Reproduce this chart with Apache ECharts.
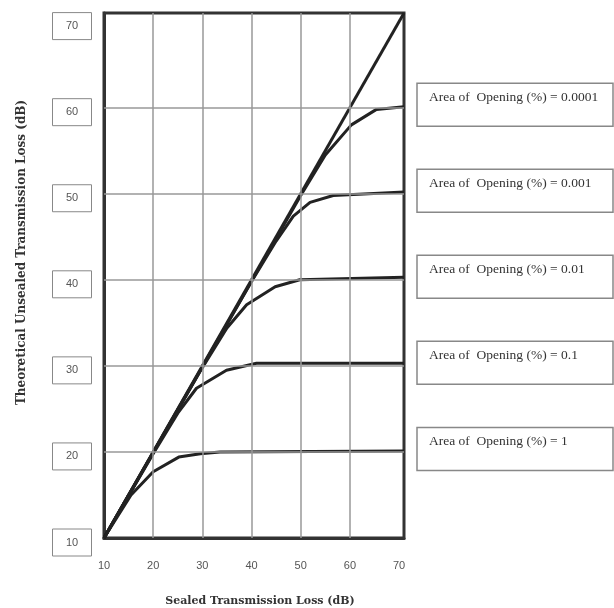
<!DOCTYPE html>
<html><head><meta charset="utf-8">
<script src="https://cdn.jsdelivr.net/npm/echarts@6/dist/echarts.min.js"></script>
<style>html,body{margin:0;padding:0;background:#fff}#c{width:614px;height:608px}</style>
</head><body><div id="c"></div>
<script>
// ---- data ----
const axisMin = 10, axisMax = 71, tickStep = 10;
const gridValues = [20, 30, 40, 50, 60];
const openingAreas = ['0.0001', '0.001', '0.01', '0.1', '1'];
const plateaus = [60, 50, 40, 30, 20];
const sealedLine = [[10, 10], [71, 71]];
const open0001 = [[10, 10], [50, 49.8], [55, 54.5], [60.3, 58.0], [65.4, 59.8], [71, 60.1]];
const open001  = [[10, 10], [40, 39.8], [45, 44.5], [48.5, 47.4], [51.9, 49.0], [56.6, 49.8], [71, 50.2]];
const open01   = [[10, 10], [30, 29.8], [35, 34.4], [39, 37.1], [44.8, 39.2], [49.8, 40.0], [71, 40.3]];
const open1    = [[10, 10], [20, 19.8], [25, 24.5], [28.8, 27.4], [34.9, 29.5], [41, 30.3], [71, 30.3]];
const open10   = [[10, 10], [15.5, 15.0], [20, 17.7], [25.2, 19.4], [29.6, 19.8], [33.6, 20.0], [71, 20.1]];
const curves = [open0001, open001, open01, open1, open10];
const xTitle = 'Sealed Transmission Loss (dB)';
const yTitle = 'Theoretical Unsealed Transmission Loss (dB)';

const chart = echarts.init(document.getElementById('c'), null, {renderer: 'canvas'});
const lineStyle = {color: '#222', width: 3};
const gridMarks = gridValues.map(v => ({xAxis: v})).concat(gridValues.map(v => ({yAxis: v})));
const series = [{
  type: 'line', name: 'grid', data: [], z: 1, silent: true,
  markLine: {silent: true, symbol: 'none', label: {show: false},
    lineStyle: {color: '#999', width: 1.5, type: 'solid'}, data: gridMarks}
}, {
  type: 'line', name: 'Sealed', data: sealedLine, symbol: 'none', lineStyle: lineStyle, z: 3
}].concat(curves.map((d, i) => ({
  type: 'line', name: 'Area of Opening (%) = ' + openingAreas[i], data: d,
  symbol: 'none', lineStyle: lineStyle, z: 3
})));

chart.setOption({
  animation: false,
  grid: {left: 104, right: 210, top: 13, bottom: 70, outerBoundsMode: 'none', containLabel: false,
         show: true, borderColor: '#333', borderWidth: 3},
  xAxis: {
    type: 'value', min: axisMin, max: axisMax, interval: tickStep,
    name: xTitle, nameLocation: 'middle', nameGap: 58,
    nameTextStyle: {fontFamily: 'DejaVu Serif', fontWeight: 'bold', fontSize: 11, color: '#333', padding: [0, 0, 0, 12]},
    axisLine: {show: true, lineStyle: {color: '#333', width: 3}},
    axisTick: {show: false},
    splitLine: {show: false},
    axisLabel: {showMaxLabel: false, margin: 22, fontFamily: 'Liberation Sans', fontSize: 11, color: '#555'}
  },
  yAxis: {
    type: 'value', min: axisMin, max: axisMax, interval: tickStep,
    name: yTitle, nameLocation: 'middle', nameGap: 76,
    nameTextStyle: {fontFamily: 'DejaVu Serif', fontWeight: 'bold', fontSize: 12, color: '#333', padding: [0, 0, 0, 46]},
    axisLine: {show: true, lineStyle: {color: '#333', width: 3}},
    axisTick: {show: false},
    splitLine: {show: false},
    axisLabel: {
      showMaxLabel: false, margin: 32, align: 'center', lineHeight: 36,
      formatter: v => '{b|' + v + '}',
      rich: {b: {width: 21, align: 'center', verticalAlign: 'bottom',
        fontFamily: 'Liberation Sans', fontSize: 11, color: '#555',
        borderColor: '#888', borderWidth: 1, padding: [8, 9, 8, 9]}}
    }
  },
  series: series
});

// legend-like label boxes, positioned at each curve's plateau level
const boxes = [];
plateaus.forEach((v, i) => {
  const cy = chart.convertToPixel({yAxisIndex: 0}, v) - 3;
  boxes.push({
    type: 'rect', shape: {x: 417, y: cy - 21.5, width: 196, height: 43},
    style: {fill: '#fff', stroke: '#888', lineWidth: 1.5}
  });
  boxes.push({
    type: 'text', x: 429, y: cy - 7,
    style: {text: 'Area of  Opening (%) = ' + openingAreas[i], fontFamily: 'Liberation Serif', fontSize: 13.5,
            fill: '#333', verticalAlign: 'middle', align: 'left'}
  });
});
chart.setOption({graphic: boxes});
</script></body></html>
